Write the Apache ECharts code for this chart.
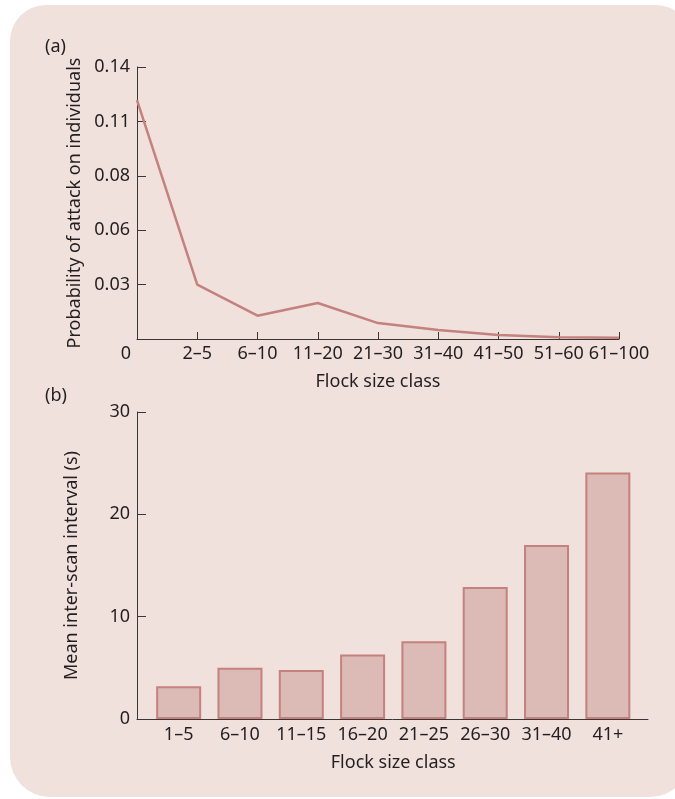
<!DOCTYPE html>
<html>
<head>
<meta charset="utf-8">
<script src="https://cdn.jsdelivr.net/npm/echarts@6/dist/echarts.min.js"></script>
<style>
  html, body { margin: 0; padding: 0; background: #ffffff; }
  #chart { width: 675px; height: 799px; }
</style>
</head>
<body>
<div id="chart"></div>
<script>
// panel (a): probability of attack by flock size
const attackClasses = ["0", "2–5", "6–10", "11–20", "21–30", "31–40", "41–50", "51–60", "61–100"];
const attackProb = [0.123, 0.028, 0.012, 0.0185, 0.0082, 0.0046, 0.002, 0.0009, 0.0007];
const attackTicks = ["0", "0.03", "0.06", "0.08", "0.11", "0.14"];

// panel (b): mean inter-scan interval
const scanClasses = ["1–5", "6–10", "11–15", "16–20", "21–25", "26–30", "31–40", "41+"];
const scanInterval = [3.2, 5.0, 4.8, 6.3, 7.6, 12.9, 17.0, 24.1];
const scanTicks = ["0", "10", "20", "30"];

const font = "Noto Sans";
const ink = "#231f20";
const axisCol = "#3a3536";
const rose = "#c4817d";

const chart = echarts.init(document.getElementById("chart"));

const txt = { fontFamily: font, fontSize: 18, color: ink };

const option = {
  animation: false,
  textStyle: { fontFamily: font },
  graphic: [
    {
      type: "rect",
      z: -10,
      silent: true,
      shape: { x: 10, y: 5, width: 680, height: 792, r: [36, 34, 40, 40] },
      style: { fill: "#f0e1dd" }
    }
  ],
  title: [
    { text: "(a)", left: 40, top: 33, textStyle: Object.assign({ fontWeight: "normal" }, txt) },
    { text: "(b)", left: 40, top: 382, textStyle: Object.assign({ fontWeight: "normal" }, txt) }
  ],
  grid: [
    { left: 137, right: 56, top: 67, bottom: 460 },
    { left: 148, right: 36.5, top: 412, bottom: 80 },
    { left: 137, right: 27, top: 412, bottom: 80 }
  ],
  xAxis: [
    {
      gridIndex: 0,
      type: "category",
      data: attackClasses,
      boundaryGap: false,
      name: "Flock size class",
      nameLocation: "middle",
      nameGap: 34,
      nameTextStyle: txt,
      axisLine: { lineStyle: { color: axisCol, width: 1 } },
      axisTick: { inside: true, length: 7, lineStyle: { color: axisCol } },
      axisLabel: Object.assign({
        margin: 6,
        interval: 0,
        showMinLabel: true,
        showMaxLabel: true,
        formatter: function (v, i) { return i === 0 ? "{z|" + v + "}" : v; },
        rich: { z: { fontFamily: font, fontSize: 18, color: ink, padding: [0, 22, 0, 0] } }
      }, txt),
      splitLine: { show: false }
    },
    {
      gridIndex: 1,
      type: "category",
      data: scanClasses,
      name: "Flock size class",
      nameLocation: "middle",
      nameGap: 35,
      nameTextStyle: txt,
      axisLine: { show: false },
      axisTick: { show: false },
      axisLabel: Object.assign({ margin: 7, interval: 0 }, txt),
      splitLine: { show: false }
    },
    {
      gridIndex: 2,
      type: "value",
      min: 0,
      max: 1,
      axisLine: { show: true, onZero: false, lineStyle: { color: axisCol, width: 1 } },
      axisTick: { show: false },
      axisLabel: { show: false },
      splitLine: { show: false }
    }
  ],
  yAxis: [
    {
      gridIndex: 0,
      type: "value",
      min: 0,
      max: 0.14,
      interval: 0.028,
      name: "Probability of attack on individuals",
      nameLocation: "middle",
      nameGap: 53,
      nameTextStyle: txt,
      axisLine: { show: true, lineStyle: { color: axisCol, width: 1 } },
      axisTick: { show: true, inside: true, length: 9, lineStyle: { color: axisCol } },
      axisLabel: Object.assign({
        margin: 7,
        formatter: function (v) {
          const i = Math.round(v / 0.028);
          return i === 0 ? "" : attackTicks[i];
        }
      }, txt),
      splitLine: { show: false }
    },
    {
      gridIndex: 1,
      type: "value",
      min: 0,
      max: 30,
      show: false
    },
    {
      gridIndex: 2,
      type: "value",
      min: 0,
      max: 30,
      interval: 10,
      name: "Mean inter-scan interval (s)",
      nameLocation: "middle",
      nameGap: 56,
      nameTextStyle: txt,
      axisLine: { show: true, lineStyle: { color: axisCol, width: 1 } },
      axisTick: { show: true, inside: true, length: 9, lineStyle: { color: axisCol } },
      axisLabel: Object.assign({
        margin: 7,
        formatter: function (v) { return scanTicks[Math.round(v / 10)]; }
      }, txt),
      splitLine: { show: false }
    }
  ],
  series: [
    {
      type: "line",
      xAxisIndex: 0,
      yAxisIndex: 0,
      data: attackProb,
      symbol: "none",
      lineStyle: { color: rose, width: 2.5 },
      z: 3
    },
    {
      type: "bar",
      xAxisIndex: 1,
      yAxisIndex: 1,
      data: scanInterval,
      barWidth: 45,
      itemStyle: { color: "#dcbab6", borderColor: rose, borderWidth: 2 },
      z: 1
    }
  ]
};

chart.setOption(option);
</script>
</body>
</html>
